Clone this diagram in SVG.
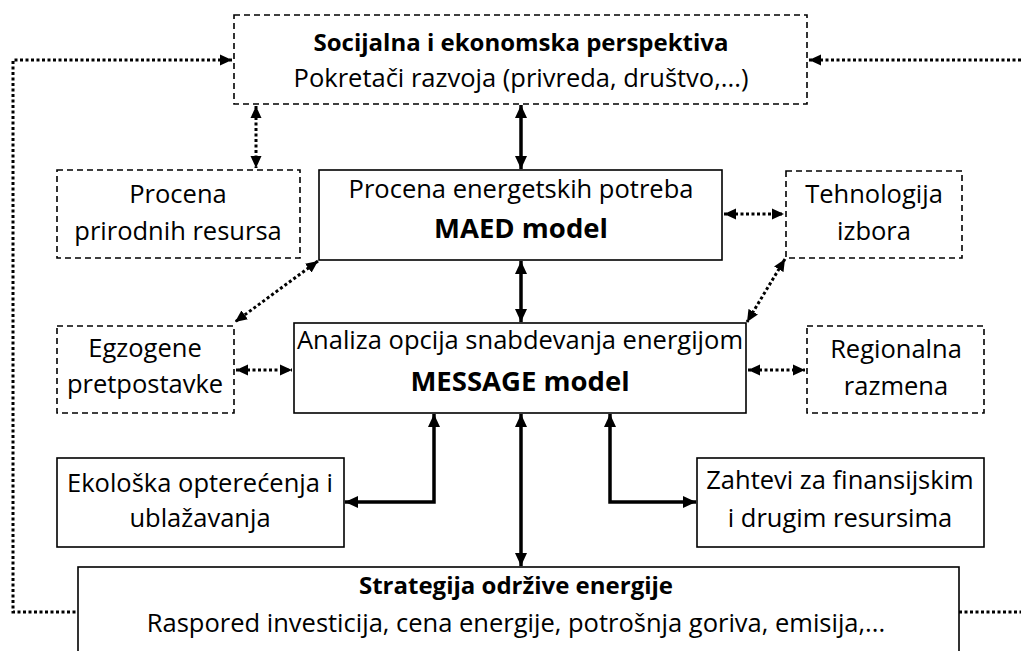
<svg xmlns="http://www.w3.org/2000/svg" width="1021" height="651" viewBox="0 0 1021 651">
<style>
text{font-family:"Open Sans","Noto Sans","Liberation Sans",sans-serif;fill:#000;text-anchor:middle}
.t{font-size:25.5px}
.b{font-size:24px;font-weight:bold}
.bb{font-size:27.5px;font-weight:bold}
.dash{fill:#fff;stroke:#000;stroke-width:1.6;stroke-dasharray:6,4}
.solid{fill:#fff;stroke:#000;stroke-width:1.6}
.dot{fill:none;stroke:#000;stroke-width:3;stroke-dasharray:3,2.5}
.arr{fill:none;stroke:#000;stroke-width:3.5}
</style>
<defs>
<marker id="ah" markerUnits="userSpaceOnUse" markerWidth="14" markerHeight="14" refX="13" refY="7" orient="auto-start-reverse"><path d="M0,1 L13,7 L0,13 z" fill="#000"/></marker>
<marker id="dh" markerUnits="userSpaceOnUse" markerWidth="14" markerHeight="12" refX="12" refY="6" orient="auto-start-reverse"><path d="M0,0.5 L12,6 L0,11.5 z" fill="#000"/></marker>
</defs>
<g id="connectors">
<path class="dot" d="M232,60 H13 V612 H78" marker-start="url(#dh)"/>
<path class="dot" d="M809,60 H1021" marker-start="url(#dh)"/>
<path class="dot" d="M959,612 H1021"/>
<path class="dot" d="M256,106 V168" marker-start="url(#dh)" marker-end="url(#dh)"/>
<path class="dot" d="M724,214 H784" marker-start="url(#dh)" marker-end="url(#dh)"/>
<path class="dot" d="M236,370 H292" marker-start="url(#dh)" marker-end="url(#dh)"/>
<path class="dot" d="M748,370 H805" marker-start="url(#dh)" marker-end="url(#dh)"/>
<path class="dot" d="M318,261 L235,322" marker-start="url(#dh)" marker-end="url(#dh)"/>
<path class="dot" d="M785,259 L747,322" marker-start="url(#dh)" marker-end="url(#dh)"/>
<path class="arr" d="M521,105 V169" marker-start="url(#ah)" marker-end="url(#ah)"/>
<path class="arr" d="M521,261 V322" marker-start="url(#ah)" marker-end="url(#ah)"/>
<path class="arr" d="M521,414 V566" marker-start="url(#ah)" marker-end="url(#ah)"/>
<path class="arr" d="M434,414 V502 H345" marker-start="url(#ah)" marker-end="url(#ah)"/>
<path class="arr" d="M610,414 V502 H696" marker-start="url(#ah)" marker-end="url(#ah)"/>
</g>
<g id="socijalna">
<rect class="dash" x="234" y="15" width="573" height="89"/>
<text class="b" x="521" y="51">Socijalna i ekonomska perspektiva</text>
<text class="t" x="521" y="87">Pokretači razvoja (privreda, društvo,...)</text>
</g>
<g id="prirodni">
<rect class="dash" x="57" y="170" width="243" height="88"/>
<text class="t" x="178" y="203">Procena</text>
<text class="t" x="178" y="240">prirodnih resursa</text>
</g>
<g id="maed">
<rect class="solid" x="319" y="170" width="403" height="90"/>
<text class="t" x="521" y="198">Procena energetskih potreba</text>
<text class="bb" x="521" y="238">MAED model</text>
</g>
<g id="tehnologija">
<rect class="dash" x="786" y="171" width="176" height="87"/>
<text class="t" x="874" y="203">Tehnologija</text>
<text class="t" x="874" y="240">izbora</text>
</g>
<g id="egzogene">
<rect class="dash" x="57" y="326" width="177" height="87"/>
<text class="t" x="145" y="357">Egzogene</text>
<text class="t" x="145" y="393">pretpostavke</text>
</g>
<g id="message">
<rect class="solid" x="294" y="323" width="452" height="90"/>
<text class="t" x="520" y="349">Analiza opcija snabdevanja energijom</text>
<text class="bb" x="520" y="391">MESSAGE model</text>
</g>
<g id="regionalna">
<rect class="dash" x="807" y="326" width="177" height="87"/>
<text class="t" x="896" y="358">Regionalna</text>
<text class="t" x="896" y="395">razmena</text>
</g>
<g id="ekoloska">
<rect class="solid" x="57" y="458" width="287" height="89"/>
<text class="t" x="200" y="492">Ekološka opterećenja i</text>
<text class="t" x="200" y="527">ublažavanja</text>
</g>
<g id="zahtevi">
<rect class="solid" x="697" y="458" width="287" height="89"/>
<text class="t" x="840" y="489">Zahtevi za finansijskim</text>
<text class="t" x="840" y="527">i drugim resursima</text>
</g>
<g id="strategija">
<rect class="solid" x="78" y="567" width="881" height="100"/>
<text class="b" x="516" y="594">Strategija održive energije</text>
<text class="t" x="516" y="632">Raspored investicija, cena energije, potrošnja goriva, emisija,...</text>
</g>
</svg>
